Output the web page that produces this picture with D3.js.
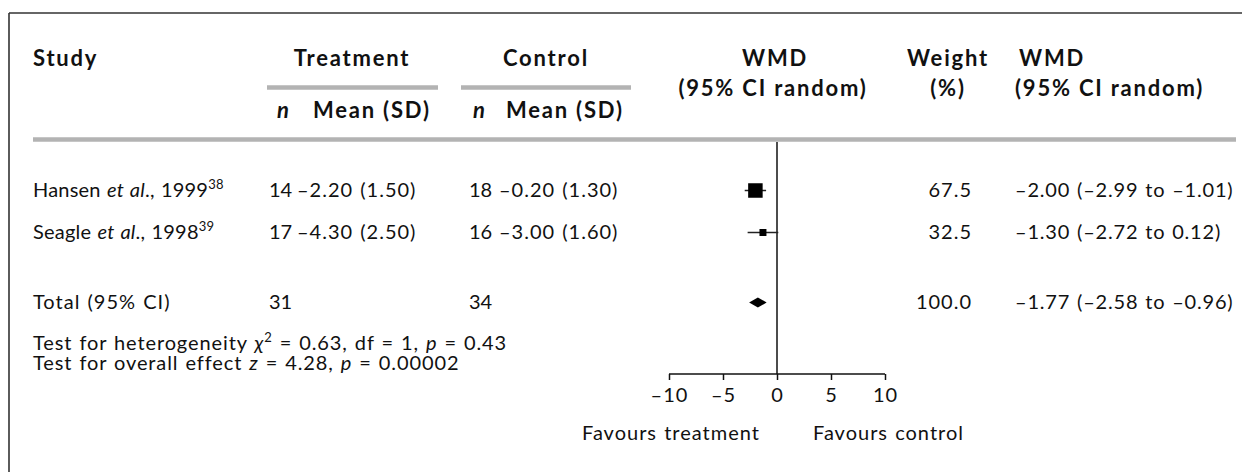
<!DOCTYPE html>
<html><head><meta charset="utf-8">
<script src="https://cdn.jsdelivr.net/npm/d3@7"></script>
<style>
html,body{margin:0;padding:0;background:#fff;}
svg text{font-family:Lato,"Open Sans",sans-serif;fill:#111;}
</style></head>
<body><svg id="c" width="1242" height="472"></svg>
<script>
// ---- data ----
const studyNames = ["Hansen", "Seagle"];
const studyYears = ["1999", "1998"];
const studyRefs = ["38", "39"];
const treatN = [14, 17];
const treatMean = [-2.20, -4.30];
const treatSD = [1.50, 2.50];
const ctrlN = [18, 16];
const ctrlMean = [-0.20, -3.00];
const ctrlSD = [1.30, 1.60];
const wmd = [-2.00, -1.30];
const wmdLo = [-2.99, -2.72];
const wmdHi = [-1.01, 0.12];
const weights = [67.5, 32.5];
const totalTreatN = 31, totalCtrlN = 34;
const totalWmd = -1.77, totalLo = -2.58, totalHi = -0.96, totalWeight = 100.0;
const axisTicks = [-10, -5, 0, 5, 10];
const hetText = {chi2: "0.63", df: "1", p: "0.43"};
const overallText = {z: "4.28", p: "0.00002"};

// ---- helpers ----
const dash = s => s.replace(/-/g, "\u2013");
const f2 = v => dash(v.toFixed(2));
const FS = 20, FB = 22;
const svg = d3.select("#c");

// frame
svg.append("line").attr("x1",9).attr("x2",1242).attr("y1",13).attr("y2",13).attr("stroke","#333").attr("stroke-width",1.6);
svg.append("line").attr("x1",9).attr("x2",9).attr("y1",13).attr("y2",472).attr("stroke","#333").attr("stroke-width",1.6);

function txt(x, y, anchor, ls){
  return svg.append("text").attr("x",x).attr("y",y).attr("text-anchor",anchor||"start")
    .attr("font-size",FS).attr("letter-spacing",ls==null?1:ls).attr("word-spacing",1);
}
function btxt(x, y, anchor){
  return svg.append("text").attr("x",x).attr("y",y).attr("text-anchor",anchor||"start")
    .attr("font-size",FB).attr("font-weight","bold").attr("letter-spacing",1.8);
}

// headers
btxt(33,66).text("Study");
btxt(352,66,"middle").text("Treatment");
btxt(546,66,"middle").text("Control");
btxt(775,66,"middle").text("WMD");
btxt(773,96,"middle").text("(95% CI random)");
btxt(948,66,"middle").text("Weight");
btxt(948,96,"middle").text("(%)");
btxt(1019,66).text("WMD");
btxt(1015,96).text("(95% CI random)");
[[267,438],[461,631]].forEach(([a,b])=>{
  svg.append("line").attr("x1",a).attr("x2",b).attr("y1",87.5).attr("y2",87.5).attr("stroke","#b3b3b3").attr("stroke-width",4.5);
});
[[277,313],[473,506]].forEach(([nx,mx])=>{
  btxt(nx,118).attr("font-style","italic").text("n");
  btxt(mx,118).text("Mean (SD)");
});
svg.append("line").attr("x1",33).attr("x2",1236).attr("y1",139.5).attr("y2",139.5).attr("stroke","#b3b3b3").attr("stroke-width",4.5);

// scale
const x = d3.scaleLinear().domain([-10,10]).range([669,885]);
const rowY = [190.5, 232.5];
const totalY = 302.5;
const axisY = 374;
const side = d3.scaleLinear().domain([0,67.5]).range([0,14.5]);

// zero line
svg.append("line").attr("x1",x(0)).attr("x2",x(0)).attr("y1",142).attr("y2",axisY).attr("stroke","#111").attr("stroke-width",1.5);

// rows
studyNames.forEach((nm,i)=>{
  const y = rowY[i]+6;
  const t = txt(33,y,"start",0.2);
  t.append("tspan").text(nm+" ");
  t.append("tspan").attr("font-style","italic").text("et al");
  t.append("tspan").text("., "+studyYears[i]);
  t.append("tspan").attr("font-size",13).attr("dy",-8).text(studyRefs[i]);
  txt(269,y,"start",0).text(treatN[i]);
  txt(297,y).text(f2(treatMean[i])+" ("+treatSD[i].toFixed(2)+")");
  txt(469,y,"start",0).text(ctrlN[i]);
  txt(499,y).text(f2(ctrlMean[i])+" ("+ctrlSD[i].toFixed(2)+")");
  txt(972,y,"end").text(weights[i].toFixed(1));
  txt(1015,y,"start",0.8).text(f2(wmd[i])+" ("+f2(wmdLo[i])+" to "+f2(wmdHi[i])+")");
  // CI line + square
  svg.append("line").attr("x1",x(wmdLo[i])).attr("x2",x(wmdHi[i])).attr("y1",rowY[i]).attr("y2",rowY[i]).attr("stroke","#222").attr("stroke-width",1.5);
  const s = side(weights[i]);
  svg.append("rect").attr("x",x(wmd[i])-s/2).attr("y",rowY[i]-s/2).attr("width",s).attr("height",s).attr("fill","#000");
});

// total
const ty = totalY+6.5;
txt(33,ty).text("Total (95% CI)");
txt(269,ty,"start",0).text(totalTreatN);
txt(469,ty,"start",0).text(totalCtrlN);
txt(972,ty,"end").text(totalWeight.toFixed(1));
txt(1015,ty,"start",0.8).text(f2(totalWmd)+" ("+f2(totalLo)+" to "+f2(totalHi)+")");
svg.append("path").attr("d",`M${x(totalLo)},${totalY} L${x(totalWmd)},${totalY-5} L${x(totalHi)},${totalY} L${x(totalWmd)},${totalY+5} Z`).attr("fill","#000");

// tests
let t1 = txt(33,350,"start",0.9);
t1.append("tspan").text("Test for heterogeneity ");
t1.append("tspan").attr("font-style","italic").text("\u03C7");
t1.append("tspan").attr("font-size",13).attr("dy",-8).text("2");
t1.append("tspan").attr("dy",8).text(" = "+hetText.chi2+", df = "+hetText.df+", ");
t1.append("tspan").attr("font-style","italic").text("p");
t1.append("tspan").text(" = "+hetText.p);
let t2 = txt(33,369.5,"start",0.9);
t2.append("tspan").text("Test for overall effect ");
t2.append("tspan").attr("font-style","italic").text("z");
t2.append("tspan").text(" = "+overallText.z+", ");
t2.append("tspan").attr("font-style","italic").text("p");
t2.append("tspan").text(" = "+overallText.p);

// axis
const ax = svg.append("g").attr("transform",`translate(0,${axisY})`)
  .call(d3.axisBottom(x).tickValues(axisTicks).tickSize(6).tickPadding(8).tickFormat(d=>dash(String(d))));
ax.select(".domain").attr("stroke","#111").attr("stroke-width",1.5).attr("d",`M${x(-10)},0H${x(10)}`);
ax.selectAll(".tick line").attr("stroke","#111").attr("stroke-width",1.5);
ax.selectAll(".tick text").attr("font-size",FS).attr("font-family","Lato,sans-serif").attr("fill","#111").attr("letter-spacing",1);

txt(582,440).text("Favours treatment");
txt(813,440).text("Favours control");
</script></body></html>
